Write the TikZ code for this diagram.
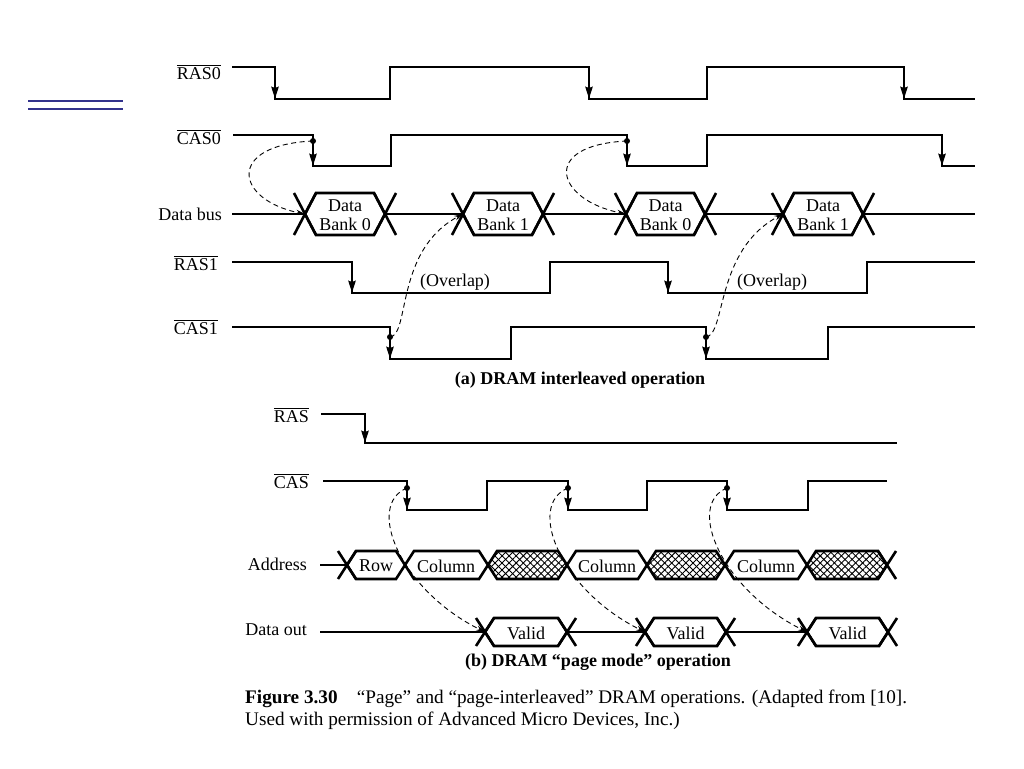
\documentclass[tikz,border=0pt]{standalone}
\usepackage{fontspec}
\setmainfont{Liberation Serif}
\usetikzlibrary{arrows.meta,patterns.meta}

\newcommand\sigfont{\fontsize{18}{19}\selectfont}
\newcommand\capfont{\fontsize{19.2}{21.5}\selectfont}
\newcommand\lowact[1]{$\overline{\hbox{#1}}$}

\tikzset{
  wave/.style={line width=2.6pt},
  fall/.style={line width=2.6pt,-{Stealth[length=12pt,width=7pt,inset=1pt]}},
  link/.style={line width=0.9pt,dash pattern=on 5pt off 3.5pt,
    -{Stealth[length=9pt,width=5pt]}},
  sig/.style={anchor=base east,inner sep=0pt,font=\sigfont},
  boxtxt/.style={inner sep=0pt,font=\sigfont,align=center},
  hatchA/.style={pattern={Lines[angle=45,distance=5pt,line width=0.9pt]}},
  hatchB/.style={pattern={Lines[angle=-45,distance=5pt,line width=0.9pt]}}
}

\begin{document}
\begin{tikzpicture}[x=1pt,y=-1pt]
\useasboundingbox (0,0) rectangle (1024,768);

% blue rule on the left
\draw[line width=2pt,color={rgb,255:red,50;green,50;blue,140}]
  (28,101) -- (123,101) (28,109) -- (123,109);

%%% (a) interleaved operation
\node[sig] (ras0) at (221,79) {\lowact{RAS0}};
\node[sig] (cas0) at (221,144) {\lowact{CAS0}};
\node[sig] (dbus) at (222,220) {Data bus};
\node[sig] (ras1) at (218,270) {\lowact{RAS1}};
\node[sig] (cas1) at (218,334) {\lowact{CAS1}};

\draw[wave] (232,67) -- (275,67) -- (275,99) -- (390,99) -- (390,67)
  -- (589,67) -- (589,99) -- (707,99) -- (707,67) -- (904,67)
  -- (904,99) -- (975,99);
\foreach \x in {275,589,904} \draw[fall] (\x,67) -- (\x,99);

\draw[wave] (233,135) -- (313,135) -- (313,166) -- (391,166) -- (391,135)
  -- (627,135) -- (627,166) -- (707,166) -- (707,135) -- (942,135)
  -- (942,166) -- (975,166);
\foreach \x in {313,627,942} \draw[fall] (\x,135) -- (\x,166);

\draw[wave] (232,262) -- (352,262) -- (352,293) -- (550,293) -- (550,262)
  -- (668,262) -- (668,293) -- (867,293) -- (867,262) -- (975,262);
\foreach \x in {352,668} \draw[fall] (\x,262) -- (\x,293);

\draw[wave] (232,327) -- (390,327) -- (390,359) -- (511,359) -- (511,327)
  -- (706,327) -- (706,359) -- (828,359) -- (828,327) -- (975,327);
\foreach \x in {390,706} \draw[fall] (\x,327) -- (\x,359);

% data bus
\draw[wave] (232,214) -- (305,214) (385,214) -- (463,214)
  (543,214) -- (626,214) (705,214) -- (783,214) (863,214) -- (975,214);
\foreach \a/\b/\n [count=\i] in {305/385/0,463/543/1,626/705/0,783/863/1}{
  \draw[wave] (\a,214) -- (\a+11,193) -- (\b-11,193) -- (\b,214)
    -- (\b-11,235) -- (\a+11,235) -- cycle;
  \node[boxtxt] (bank\i) at ({(\a+\b)/2},215) {Data\\Bank \n};
}
\foreach \c in {305,385,463,543,626,705,783,863}
  \draw[wave] (\c-11,193) -- (\c+11,235) (\c-11,235) -- (\c+11,193);

% strobe points and bus edges
\coordinate (s1) at (313,141);
\coordinate (s2) at (627,141);
\coordinate (s3) at (390,337);
\coordinate (s4) at (706,337);
\coordinate (e1) at (305,214);
\coordinate (e2) at (463,214);
\coordinate (e3) at (626,214);
\coordinate (e4) at (783,214);
\foreach \s in {s1,s2,s3,s4} \fill (\s) circle (3pt);

\draw[link] (s1) .. controls +(-88,4) and +(-70,-14) .. (e1);
\draw[link] (s2) .. controls +(-88,4) and +(-70,-14) .. (e3);
\draw[link] (s3) .. controls +(20,-2) and +(-68,36) .. (e2);
\draw[link] (s4) .. controls +(20,-2) and +(-68,36) .. (e4);

\node[font=\sigfont,anchor=base,fill=white,inner sep=1pt] (ovl1) at (455,286) {(Overlap)};
\node[font=\sigfont,anchor=base,fill=white,inner sep=1pt] (ovl2) at (772,286) {(Overlap)};

\node[font=\sigfont\bfseries] (capa) at (580,380) {(a) DRAM interleaved operation};

%%% (b) page mode operation
\node[sig] (ras) at (309,422) {\lowact{RAS}};
\node[sig] (cas) at (309,488) {\lowact{CAS}};
\node[sig] (addr) at (307,570) {Address};
\node[sig] (dout) at (307,635) {Data out};

\draw[wave] (321,414) -- (365,414) -- (365,443) -- (897,443);
\draw[fall] (365,414) -- (365,443);

\draw[wave] (323,481) -- (407,481) -- (407,510) -- (487,510) -- (487,481)
  -- (568,481) -- (568,510) -- (647,510) -- (647,481) -- (727,481)
  -- (727,510) -- (808,510) -- (808,481) -- (887,481);
\foreach \x in {407,568,727} \draw[fall] (\x,481) -- (\x,510);

% address
\draw[wave] (320,565) -- (347,565);
\foreach \a/\b in {488/567,647/725,807/887}{
  \fill[hatchA] (\a,565) -- (\a+9,551) -- (\b-9,551) -- (\b,565)
    -- (\b-9,579) -- (\a+9,579) -- cycle;
  \fill[hatchB] (\a,565) -- (\a+9,551) -- (\b-9,551) -- (\b,565)
    -- (\b-9,579) -- (\a+9,579) -- cycle;
}
\foreach \a/\b in {347/405,405/488,488/567,567/647,647/725,725/807,807/887}
  \draw[wave] (\a,565) -- (\a+9,551) -- (\b-9,551) -- (\b,565)
    -- (\b-9,579) -- (\a+9,579) -- cycle;
\foreach \c in {347,887}
  \draw[wave] (\c-9,551) -- (\c+9,579) (\c-9,579) -- (\c+9,551);
\node[boxtxt] (row) at (376,566) {Row};
\node[boxtxt] (col1) at (446,566) {Column};
\node[boxtxt] (col2) at (607,566) {Column};
\node[boxtxt] (col3) at (766,566) {Column};

% data out
\draw[wave] (320,632) -- (485,632) (567,632) -- (645,632) (726,632) -- (807,632);
\foreach \a/\b [count=\i] in {485/567,645/726,807/888}{
  \draw[wave] (\a,632) -- (\a+9,618) -- (\b-9,618) -- (\b,632)
    -- (\b-9,646) -- (\a+9,646) -- cycle;
  \node[boxtxt] (valid\i) at ({(\a+\b)/2},633) {Valid};
}
\foreach \c in {485,567,645,726,807,888}
  \draw[wave] (\c-9,618) -- (\c+9,646) (\c-9,646) -- (\c+9,618);

\coordinate (p1) at (407,488);
\coordinate (p2) at (568,488);
\coordinate (p3) at (727,488);
\coordinate (v1) at (485,632);
\coordinate (v2) at (645,632);
\coordinate (v3) at (807,632);
\foreach \p in {p1,p2,p3} \fill (\p) circle (3pt);
\foreach \i in {1,2,3}
  \draw[link] (p\i) .. controls +(-42,17) and +(-85,-42) .. (v\i);

\node[font=\sigfont\bfseries] (capb) at (598,662) {(b) DRAM ``page mode'' operation};

% figure caption
\node[font=\capfont,anchor=north west,align=left,inner sep=0pt] (fig) at (245,690)
  {\textbf{Figure 3.30}\quad ``Page'' and ``page-interleaved'' DRAM operations. (Adapted from [10].\\
   Used with permission of Advanced Micro Devices, Inc.)};

\end{tikzpicture}
\end{document}
